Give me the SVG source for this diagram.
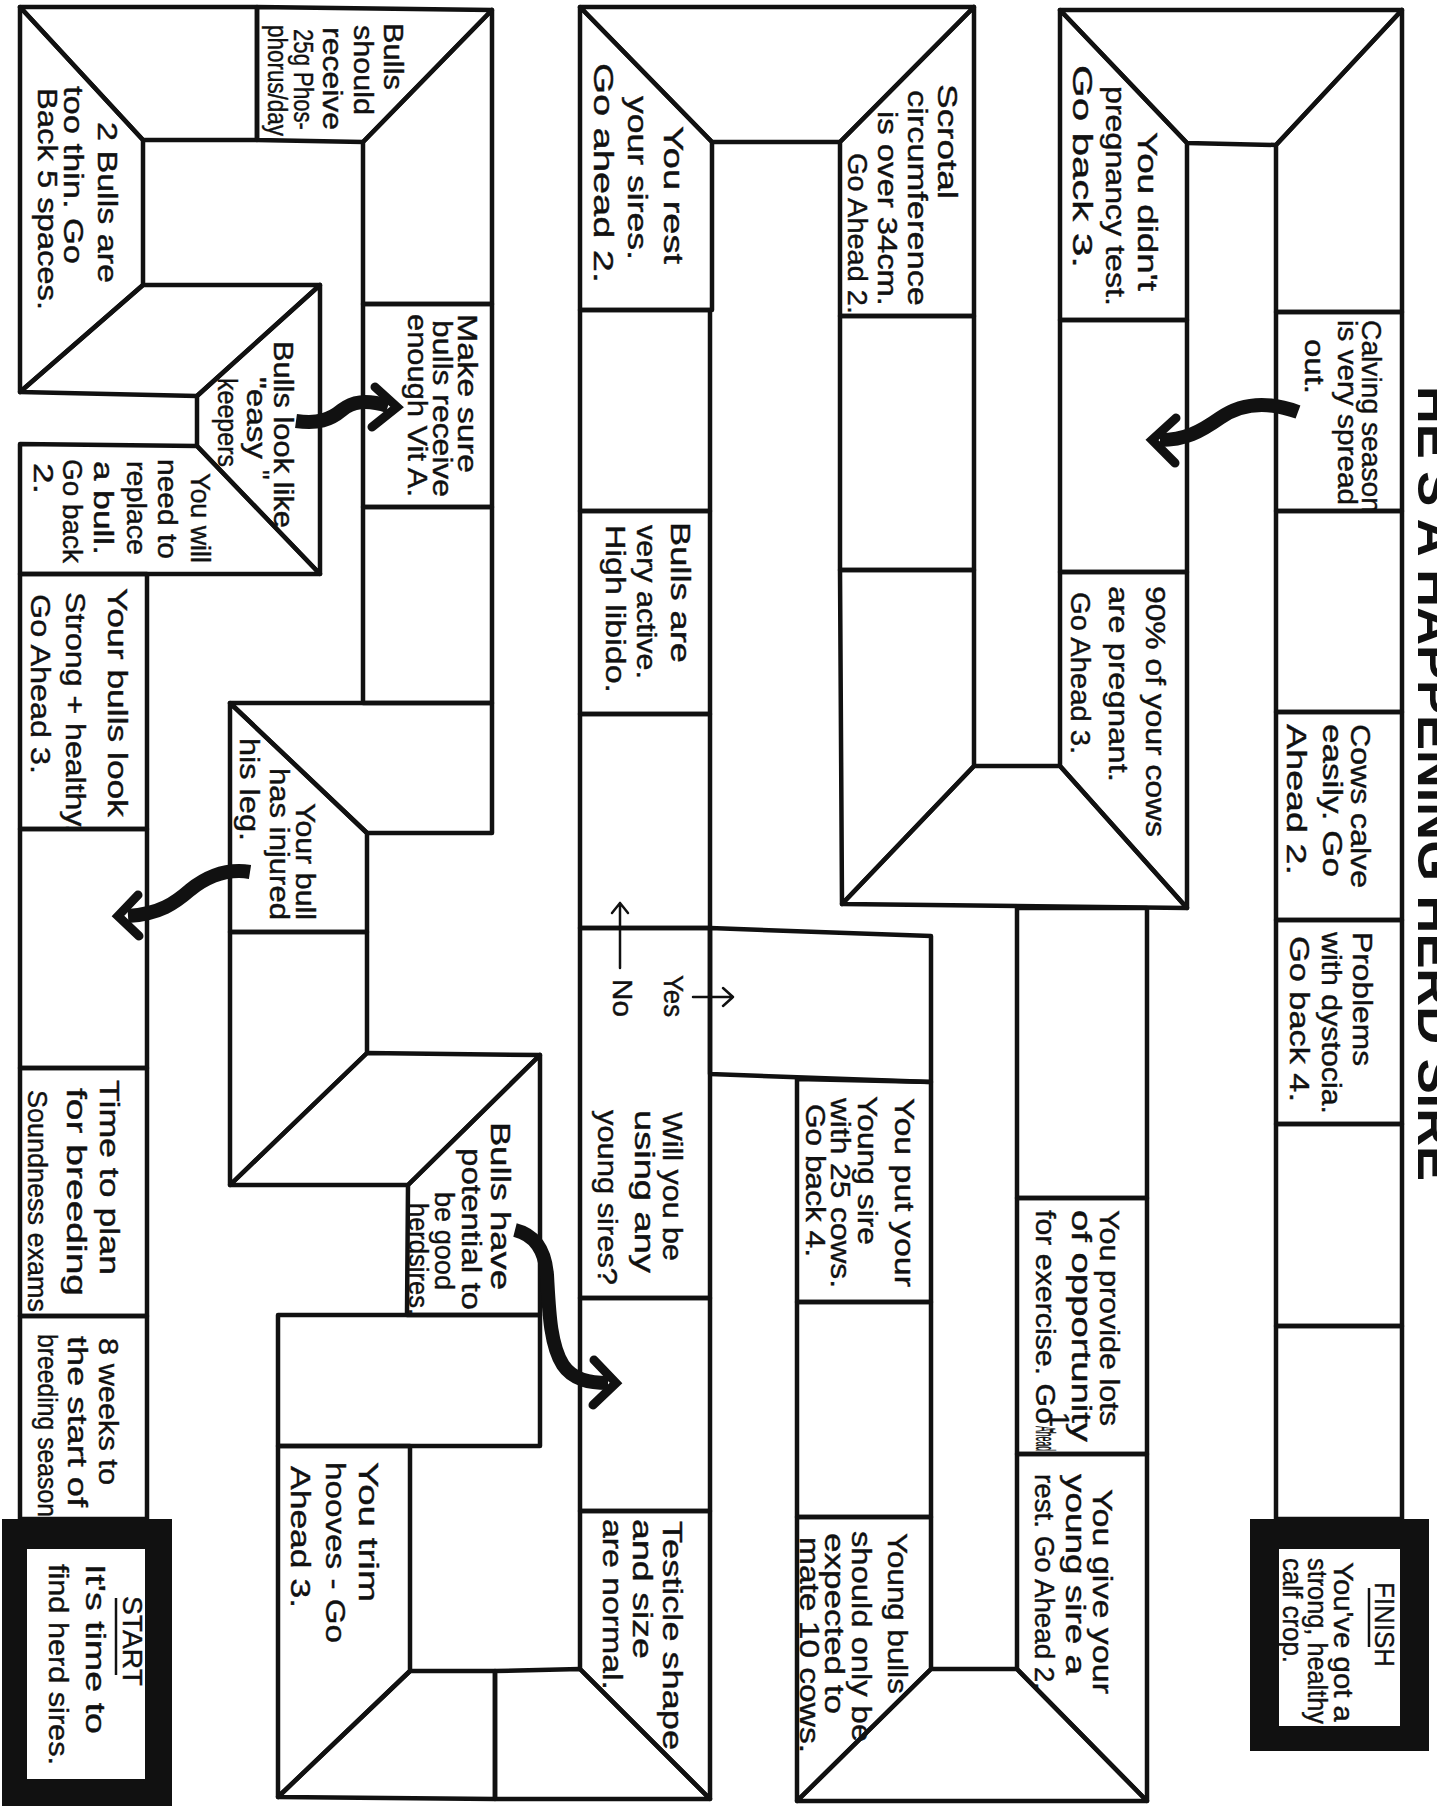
<svg xmlns="http://www.w3.org/2000/svg" width="1437" height="1808" viewBox="0 0 1437 1808">
<style>
.c{fill:none;stroke:#111;stroke-width:4.5;stroke-linejoin:round;stroke-linecap:round}
.t{font-family:"Liberation Sans",Arial,sans-serif;font-size:27px;fill:#111;stroke:#111;stroke-width:0.4}
.ttl{font-family:"Liberation Sans",Arial,sans-serif;font-weight:bold;font-size:50px;fill:#111}
.box{fill:#111;fill-rule:evenodd}
.arr{fill:none;stroke:#111;stroke-width:14;stroke-linecap:butt}
.hd{fill:none;stroke:#111;stroke-width:9;stroke-linejoin:miter;stroke-linecap:round}
.sm{fill:none;stroke:#111;stroke-width:2.5;stroke-linecap:round;stroke-linejoin:round}
.ul{stroke:#111;stroke-width:2.5}
</style>
<rect width="1437" height="1808" fill="#fff"/>
<g id="title">
<text class="ttl" transform="translate(1418 386) rotate(90)" textLength="795" lengthAdjust="spacingAndGlyphs">HE'S A HAPPENING HERD SIRE</text>
</g>
<g id="c1"><polygon class="c" points="20,7 257,7 257,140 143,140"/></g>
<g id="c2"><polygon class="c" points="257,7 492,10 363,142 257,140"/>
<text class="t" font-size="25" transform="translate(384 23) rotate(90)" textLength="67" lengthAdjust="spacingAndGlyphs">Bulls</text>
<text class="t" font-size="25" transform="translate(354 25) rotate(90)" textLength="90" lengthAdjust="spacingAndGlyphs">should</text>
<text class="t" font-size="25" transform="translate(323 27) rotate(90)" textLength="103" lengthAdjust="spacingAndGlyphs">receive</text>
<text class="t" font-size="25" transform="translate(294 29) rotate(90)" textLength="101" lengthAdjust="spacingAndGlyphs">25g Phos-</text>
<text class="t" font-size="22" transform="translate(268 25) rotate(90)" textLength="111" lengthAdjust="spacingAndGlyphs">phorus/day</text>
</g>
<g id="c3"><polygon class="c" points="20,7 143,140 143,285 20,392"/>
<text class="t" transform="translate(98 122) rotate(90)" textLength="161" lengthAdjust="spacingAndGlyphs">2 Bulls are</text>
<text class="t" transform="translate(64 86) rotate(90)" textLength="178" lengthAdjust="spacingAndGlyphs">too thin. Go</text>
<text class="t" transform="translate(38 88) rotate(90)" textLength="222" lengthAdjust="spacingAndGlyphs">Back 5 spaces.</text>
</g>
<g id="c4"><polygon class="c" points="143,285 320,285 197,396 20,392"/></g>
<g id="c5"><polygon class="c" points="320,285 320,574 197,446 197,396"/>
<text class="t" font-size="26" transform="translate(274 341) rotate(90)" textLength="187" lengthAdjust="spacingAndGlyphs">Bulls look like</text>
<text class="t" font-size="26" transform="translate(247 377) rotate(90)" textLength="82" lengthAdjust="spacingAndGlyphs">"easy</text>
<text class="t" font-size="26" transform="translate(250 470) rotate(90)">"</text>
<text class="t" font-size="26" transform="translate(218 378) rotate(90)" textLength="89" lengthAdjust="spacingAndGlyphs">keepers</text>
</g>
<g id="c6"><polygon class="c" points="20,444 197,446 320,574 20,574"/>
<text class="t" transform="translate(191 473) rotate(90)" textLength="90" lengthAdjust="spacingAndGlyphs">You will</text>
<text class="t" transform="translate(158 459) rotate(90)" textLength="100" lengthAdjust="spacingAndGlyphs">need to</text>
<text class="t" transform="translate(127 461) rotate(90)" textLength="94" lengthAdjust="spacingAndGlyphs">replace</text>
<text class="t" transform="translate(94 461) rotate(90)" textLength="94" lengthAdjust="spacingAndGlyphs">a bull.</text>
<text class="t" transform="translate(63 459) rotate(90)" textLength="104" lengthAdjust="spacingAndGlyphs">Go back</text>
<text class="t" transform="translate(34 463) rotate(90)" textLength="31" lengthAdjust="spacingAndGlyphs">2.</text>
</g>
<g id="c7"><polygon class="c" points="20,574 147,574 147,829 20,829"/>
<text class="t" font-size="30" transform="translate(108 588) rotate(90)" textLength="229" lengthAdjust="spacingAndGlyphs">Your bulls look</text>
<text class="t" font-size="30" transform="translate(66 592) rotate(90)" textLength="241" lengthAdjust="spacingAndGlyphs">Strong + healthy.</text>
<text class="t" font-size="30" transform="translate(31 594) rotate(90)" textLength="180" lengthAdjust="spacingAndGlyphs">Go Ahead 3.</text>
</g>
<g id="c8"><polygon class="c" points="20,829 147,829 147,1068 20,1068"/></g>
<g id="c9"><polygon class="c" points="20,1068 147,1068 147,1316 20,1316"/>
<text class="t" font-size="28" transform="translate(100 1080) rotate(90)" textLength="195" lengthAdjust="spacingAndGlyphs">Time to plan</text>
<text class="t" font-size="28" transform="translate(67 1088) rotate(90)" textLength="208" lengthAdjust="spacingAndGlyphs">for breeding</text>
<text class="t" font-size="28" transform="translate(28 1090) rotate(90)" textLength="222" lengthAdjust="spacingAndGlyphs">Soundness exams</text>
</g>
<g id="c10"><polygon class="c" points="20,1316 147,1316 147,1519 20,1519"/>
<text class="t" font-size="28" transform="translate(99 1338) rotate(90)" textLength="147" lengthAdjust="spacingAndGlyphs">8 weeks to</text>
<text class="t" font-size="28" transform="translate(68 1336) rotate(90)" textLength="171" lengthAdjust="spacingAndGlyphs">the start of</text>
<text class="t" font-size="28" transform="translate(38 1334) rotate(90)" textLength="183" lengthAdjust="spacingAndGlyphs">breeding season</text>
</g>
<g id="start">
<path class="box" d="M2,1519 H172 V1806 H2 Z M27,1549 V1779 H145 V1549 Z"/>
<text class="t" font-size="26" transform="translate(123 1596) rotate(90)" textLength="90" lengthAdjust="spacingAndGlyphs">START</text>
<line class="ul" x1="116" y1="1598" x2="116" y2="1675"/>
<text class="t" font-size="26" transform="translate(86 1564) rotate(90)" textLength="170" lengthAdjust="spacingAndGlyphs">It's time to</text>
<text class="t" font-size="26" transform="translate(49 1564) rotate(90)" textLength="201" lengthAdjust="spacingAndGlyphs">find herd sires.</text>
</g>
<g id="c11"><polygon class="c" points="363,142 492,10 492,304 363,304"/></g>
<g id="c12"><polygon class="c" points="363,304 492,304 492,507 363,507"/>
<text class="t" transform="translate(458 314) rotate(90)" textLength="159" lengthAdjust="spacingAndGlyphs">Make sure</text>
<text class="t" transform="translate(433 320) rotate(90)" textLength="177" lengthAdjust="spacingAndGlyphs">bulls receive</text>
<text class="t" transform="translate(408 314) rotate(90)" textLength="183" lengthAdjust="spacingAndGlyphs">enough Vit A.</text>
</g>
<g id="c13"><polygon class="c" points="363,507 492,507 492,703 363,703"/></g>
<g id="c14"><polygon class="c" points="230,703 492,703 492,833 367,833"/></g>
<g id="c15"><polygon class="c" points="230,703 367,833 367,932 230,932"/>
<text class="t" transform="translate(296 803) rotate(90)" textLength="117" lengthAdjust="spacingAndGlyphs">Your bull</text>
<text class="t" transform="translate(270 768) rotate(90)" textLength="152" lengthAdjust="spacingAndGlyphs">has injured</text>
<text class="t" transform="translate(240 738) rotate(90)" textLength="103" lengthAdjust="spacingAndGlyphs">his leg.</text>
</g>
<g id="c16"><polygon class="c" points="230,932 367,932 367,1053 230,1185"/></g>
<g id="c17"><polygon class="c" points="230,1185 367,1053 540,1055 408,1185"/></g>
<g id="c18"><polygon class="c" points="408,1185 540,1055 540,1315 407,1315"/>
<text class="t" font-size="26" transform="translate(491 1122) rotate(90)" textLength="168" lengthAdjust="spacingAndGlyphs">Bulls have</text>
<text class="t" font-size="26" transform="translate(462 1148) rotate(90)" textLength="162" lengthAdjust="spacingAndGlyphs">potential to</text>
<text class="t" font-size="26" transform="translate(435 1192) rotate(90)" textLength="98" lengthAdjust="spacingAndGlyphs">be good</text>
<text class="t" font-size="23" transform="translate(409 1203) rotate(90)" textLength="112" lengthAdjust="spacingAndGlyphs">herdsires.</text>
</g>
<g id="c19"><polygon class="c" points="278,1315 540,1315 540,1446 278,1446"/></g>
<g id="c20"><polygon class="c" points="278,1446 410,1446 410,1671 278,1797"/>
<text class="t" font-size="29" transform="translate(359 1462) rotate(90)" textLength="140" lengthAdjust="spacingAndGlyphs">You trim</text>
<text class="t" font-size="29" transform="translate(326 1462) rotate(90)" textLength="181" lengthAdjust="spacingAndGlyphs">hooves - Go</text>
<text class="t" font-size="29" transform="translate(291 1466) rotate(90)" textLength="142" lengthAdjust="spacingAndGlyphs">Ahead 3.</text>
</g>
<g id="c21"><polygon class="c" points="278,1797 410,1671 495,1671 495,1799"/></g>
<g id="c22"><polygon class="c" points="495,1671 580,1669 710,1799 495,1799"/></g>
<g id="c23"><polygon class="c" points="580,1511 710,1511 710,1799 580,1669"/>
<text class="t" font-size="30" transform="translate(663 1521) rotate(90)" textLength="229" lengthAdjust="spacingAndGlyphs">Testicle shape</text>
<text class="t" font-size="30" transform="translate(633 1519) rotate(90)" textLength="140" lengthAdjust="spacingAndGlyphs">and size</text>
<text class="t" font-size="30" transform="translate(603 1519) rotate(90)" textLength="171" lengthAdjust="spacingAndGlyphs">are normal.</text>
</g>
<g id="c24"><polygon class="c" points="580,1298 710,1298 710,1511 580,1511"/></g>
<g id="c25"><polygon class="c" points="580,928 710,928 710,1298 580,1298"/>
<text class="t" transform="translate(663 1112) rotate(90)" textLength="149" lengthAdjust="spacingAndGlyphs">Will you be</text>
<text class="t" transform="translate(635 1110) rotate(90)" textLength="163" lengthAdjust="spacingAndGlyphs">using any</text>
<text class="t" transform="translate(598 1110) rotate(90)" textLength="175" lengthAdjust="spacingAndGlyphs">young sires?</text>
<text class="t" font-size="26" transform="translate(664 975) rotate(90)" textLength="42" lengthAdjust="spacingAndGlyphs">Yes</text>
<text class="t" font-size="26" transform="translate(613 979) rotate(90)" textLength="38" lengthAdjust="spacingAndGlyphs">No</text>
</g>
<g id="c26"><polygon class="c" points="580,714 710,714 710,928 580,928"/></g>
<g id="c27"><polygon class="c" points="580,511 710,511 710,714 580,714"/>
<text class="t" transform="translate(671 522) rotate(90)" textLength="141" lengthAdjust="spacingAndGlyphs">Bulls are</text>
<text class="t" transform="translate(637 525) rotate(90)" textLength="154" lengthAdjust="spacingAndGlyphs">very active.</text>
<text class="t" transform="translate(606 525) rotate(90)" textLength="168" lengthAdjust="spacingAndGlyphs">High libido.</text>
</g>
<g id="c28"><polygon class="c" points="580,310 710,310 710,511 580,511"/></g>
<g id="c29"><polygon class="c" points="580,7 712,142 712,310 580,310"/>
<text class="t" font-size="28" transform="translate(664 126) rotate(90)" textLength="138" lengthAdjust="spacingAndGlyphs">You rest</text>
<text class="t" font-size="28" transform="translate(628 96) rotate(90)" textLength="164" lengthAdjust="spacingAndGlyphs">your sires.</text>
<text class="t" font-size="28" transform="translate(594 63) rotate(90)" textLength="220" lengthAdjust="spacingAndGlyphs">Go ahead 2.</text>
</g>
<g id="c30"><polygon class="c" points="580,7 974,7 840,142 712,142"/></g>
<g id="c31"><polygon class="c" points="840,142 974,7 974,316 840,316"/>
<text class="t" font-size="26" transform="translate(938 84) rotate(90)" textLength="115" lengthAdjust="spacingAndGlyphs">Scrotal</text>
<text class="t" font-size="26" transform="translate(908 90) rotate(90)" textLength="216" lengthAdjust="spacingAndGlyphs">circumference</text>
<text class="t" font-size="26" transform="translate(878 111) rotate(90)" textLength="195" lengthAdjust="spacingAndGlyphs">is over 34cm.</text>
<text class="t" font-size="26" transform="translate(848 153) rotate(90)" textLength="161" lengthAdjust="spacingAndGlyphs">Go Ahead 2.</text>
</g>
<g id="c32"><polygon class="c" points="840,316 974,316 974,570 840,570"/></g>
<g id="c33"><polygon class="c" points="840,570 974,570 974,766 842,904"/></g>
<g id="c34"><polygon class="c" points="842,904 974,766 1060,766 1187,908"/></g>
<g id="c35"><polygon class="c" points="1060,572 1187,572 1187,908 1060,766"/>
<text class="t" font-size="28" transform="translate(1146 586) rotate(90)" textLength="251" lengthAdjust="spacingAndGlyphs">90% of your cows</text>
<text class="t" font-size="28" transform="translate(1109 586) rotate(90)" textLength="196" lengthAdjust="spacingAndGlyphs">are pregnant.</text>
<text class="t" font-size="28" transform="translate(1071 592) rotate(90)" textLength="162" lengthAdjust="spacingAndGlyphs">Go Ahead 3.</text>
</g>
<g id="c36"><polygon class="c" points="1060,320 1187,320 1187,572 1060,572"/></g>
<g id="c37"><polygon class="c" points="1060,10 1187,143 1187,320 1060,320"/>
<text class="t" font-size="28" transform="translate(1138 132) rotate(90)" textLength="159" lengthAdjust="spacingAndGlyphs">You didn't</text>
<text class="t" font-size="28" transform="translate(1106 86) rotate(90)" textLength="220" lengthAdjust="spacingAndGlyphs">pregnancy test.</text>
<text class="t" font-size="28" transform="translate(1073 65) rotate(90)" textLength="203" lengthAdjust="spacingAndGlyphs">Go back 3.</text>
</g>
<g id="c38"><polygon class="c" points="1060,10 1402,10 1276,145 1187,143"/></g>
<g id="c39"><polygon class="c" points="1276,145 1402,10 1402,312 1276,312"/></g>
<g id="c40"><polygon class="c" points="1276,312 1402,312 1402,511 1276,511"/>
<text class="t" font-size="25" transform="translate(1362 320) rotate(90)" textLength="193" lengthAdjust="spacingAndGlyphs">Calving season</text>
<text class="t" font-size="25" transform="translate(1338 320) rotate(90)" textLength="185" lengthAdjust="spacingAndGlyphs">is very spread</text>
<text class="t" font-size="25" transform="translate(1305 339) rotate(90)" textLength="55" lengthAdjust="spacingAndGlyphs">out.</text>
</g>
<g id="c41"><polygon class="c" points="1276,511 1402,511 1402,712 1276,712"/></g>
<g id="c42"><polygon class="c" points="1276,712 1402,712 1402,920 1276,920"/>
<text class="t" font-size="28" transform="translate(1351 724) rotate(90)" textLength="164" lengthAdjust="spacingAndGlyphs">Cows calve</text>
<text class="t" font-size="28" transform="translate(1323 724) rotate(90)" textLength="153" lengthAdjust="spacingAndGlyphs">easily. Go</text>
<text class="t" font-size="28" transform="translate(1287 724) rotate(90)" textLength="151" lengthAdjust="spacingAndGlyphs">Ahead 2.</text>
</g>
<g id="c43"><polygon class="c" points="1276,920 1402,920 1402,1124 1276,1124"/>
<text class="t" font-size="28" transform="translate(1353 932) rotate(90)" textLength="134" lengthAdjust="spacingAndGlyphs">Problems</text>
<text class="t" font-size="28" transform="translate(1322 932) rotate(90)" textLength="182" lengthAdjust="spacingAndGlyphs">with dystocia.</text>
<text class="t" font-size="28" transform="translate(1290 936) rotate(90)" textLength="166" lengthAdjust="spacingAndGlyphs">Go back 4.</text>
</g>
<g id="c44"><polygon class="c" points="1276,1124 1402,1124 1402,1326 1276,1326"/></g>
<g id="c45"><polygon class="c" points="1276,1326 1402,1326 1402,1519 1276,1519"/></g>
<g id="finish">
<path class="box" d="M1250,1519 H1429 V1751 H1250 Z M1279,1549 V1726 H1400 V1549 Z"/>
<text class="t" font-size="22" transform="translate(1375 1582) rotate(90)" textLength="85" lengthAdjust="spacingAndGlyphs">FINISH</text>
<line class="ul" x1="1369" y1="1588" x2="1369" y2="1647"/>
<text class="t" font-size="22" transform="translate(1334 1562) rotate(90)" textLength="160" lengthAdjust="spacingAndGlyphs">You've got a</text>
<text class="t" font-size="22" transform="translate(1308 1558) rotate(90)" textLength="166" lengthAdjust="spacingAndGlyphs">strong, healthy</text>
<text class="t" font-size="22" transform="translate(1283 1558) rotate(90)" textLength="105" lengthAdjust="spacingAndGlyphs">calf crop.</text>
</g>
<g id="c46"><polygon class="c" points="710,928 931,936 931,1082 710,1074"/></g>
<g id="c47"><polygon class="c" points="797,1079 931,1082 931,1302 797,1302"/>
<text class="t" font-size="26" transform="translate(895 1098) rotate(90)" textLength="189" lengthAdjust="spacingAndGlyphs">You put your</text>
<text class="t" font-size="26" transform="translate(858 1096) rotate(90)" textLength="149" lengthAdjust="spacingAndGlyphs">Young sire</text>
<text class="t" font-size="26" transform="translate(831 1098) rotate(90)" textLength="190" lengthAdjust="spacingAndGlyphs">with 25 cows.</text>
<text class="t" font-size="26" transform="translate(806 1104) rotate(90)" textLength="153" lengthAdjust="spacingAndGlyphs">Go back 4.</text>
</g>
<g id="c48"><polygon class="c" points="797,1302 931,1302 931,1517 797,1517"/></g>
<g id="c49"><polygon class="c" points="797,1517 931,1517 931,1669 797,1801"/>
<text class="t" font-size="26" transform="translate(888 1533) rotate(90)" textLength="161" lengthAdjust="spacingAndGlyphs">Young bulls</text>
<text class="t" font-size="26" transform="translate(852 1531) rotate(90)" textLength="211" lengthAdjust="spacingAndGlyphs">should only be</text>
<text class="t" font-size="26" transform="translate(825 1533) rotate(90)" textLength="181" lengthAdjust="spacingAndGlyphs">expected to</text>
<text class="t" font-size="26" transform="translate(800 1537) rotate(90)" textLength="216" lengthAdjust="spacingAndGlyphs">mate 10 cows.</text>
</g>
<g id="c50"><polygon class="c" points="797,1801 931,1669 1017,1669 1147,1801"/></g>
<g id="c51"><polygon class="c" points="1017,1454 1147,1454 1147,1801 1017,1669"/>
<text class="t" transform="translate(1093 1489) rotate(90)" textLength="205" lengthAdjust="spacingAndGlyphs">You give your</text>
<text class="t" transform="translate(1066 1474) rotate(90)" textLength="201" lengthAdjust="spacingAndGlyphs">young sire a</text>
<text class="t" transform="translate(1035 1474) rotate(90)" textLength="216" lengthAdjust="spacingAndGlyphs">rest. Go Ahead 2.</text>
</g>
<g id="c52"><polygon class="c" points="1017,1198 1147,1198 1147,1454 1017,1454"/>
<text class="t" font-size="26" transform="translate(1100 1210) rotate(90)" textLength="216" lengthAdjust="spacingAndGlyphs">You provide lots</text>
<text class="t" font-size="26" transform="translate(1072 1210) rotate(90)" textLength="232" lengthAdjust="spacingAndGlyphs">of opportunity</text>
<text class="t" font-size="26" transform="translate(1036 1210) rotate(90)" textLength="214" lengthAdjust="spacingAndGlyphs">for exercise. Go</text>
<text class="t" font-size="13" transform="translate(1036 1426) rotate(90)" textLength="25" lengthAdjust="spacingAndGlyphs">Ahead</text>
<text class="t" font-size="16" transform="translate(1050 1412) rotate(90)">1.</text>
</g>
<g id="c53"><polygon class="c" points="1017,908 1147,908 1147,1198 1017,1198"/></g>
<g id="connectors">
<path class="arr" d="M296,421 C318,424 330,420 342,410 C352,402 365,399 388,406"/>
<path class="hd" d="M375,387 L397,407 L372,427"/>
<path class="arr" d="M1298,412 C1265,400 1240,404 1220,418 C1200,432 1185,440 1160,440"/>
<path class="hd" d="M1176,418 L1152,440 L1175,463"/>
<path class="arr" d="M250,872 C225,868 205,878 190,890 C175,903 160,914 128,916"/>
<path class="hd" d="M138,895 L118,916 L139,936"/>
<path class="arr" d="M515,1230 C535,1235 545,1250 547,1275 C549,1310 550,1345 563,1365 C573,1380 590,1383 608,1383"/>
<path class="hd" d="M594,1360 L616,1383 L593,1405"/>
<path class="sm" d="M620,968 V903 M612,913 L620,903 L628,913"/>
<path class="sm" d="M693,997 H733 M723,988 L733,997 L723,1006"/>
</g>
</svg>
